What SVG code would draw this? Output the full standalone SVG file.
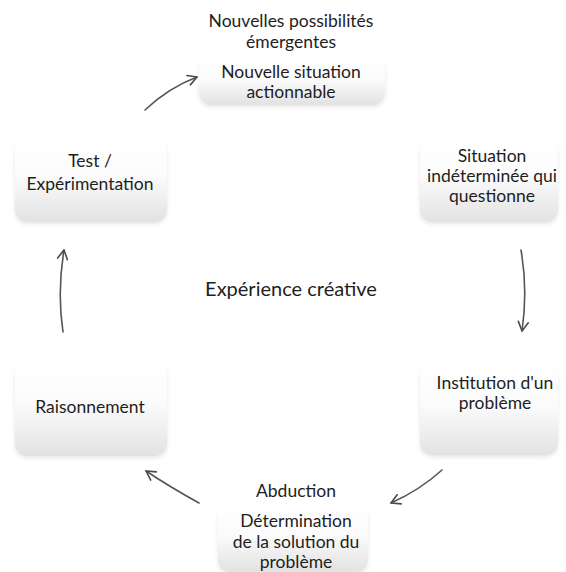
<svg xmlns="http://www.w3.org/2000/svg" width="566" height="572" viewBox="0 0 566 572">
  <defs>
    <linearGradient id="boxFill" x1="0" y1="0" x2="0" y2="1">
      <stop offset="0" stop-color="#ffffff"/>
      <stop offset="0.45" stop-color="#fbfbfb"/>
      <stop offset="1" stop-color="#e2e2e2"/>
    </linearGradient>
    <filter id="soft" x="-10%" y="-10%" width="120%" height="130%">
      <feGaussianBlur in="SourceAlpha" stdDeviation="2"/>
      <feOffset dy="1.5" result="b"/>
      <feComponentTransfer><feFuncA type="linear" slope="0.1"/></feComponentTransfer>
      <feMerge><feMergeNode/><feMergeNode in="SourceGraphic"/></feMerge>
    </filter>
    <marker id="head" viewBox="0 0 12 12" refX="10" refY="6" markerWidth="12" markerHeight="12" markerUnits="userSpaceOnUse" orient="auto">
      <path d="M1,1 L10,6 L1,11" fill="none" stroke="#4a4a4a" stroke-width="1.6" stroke-linecap="round" stroke-linejoin="round"/>
    </marker>
  </defs>
  <style>
    .box { fill: url(#boxFill); filter: url(#soft); }
    .t { font-family: Lato, "Open Sans", "Liberation Sans", sans-serif; font-size: 17.5px; fill: #1e1e1e; text-anchor: middle; }
    .title { font-family: Lato, "Open Sans", "Liberation Sans", sans-serif; font-size: 20px; fill: #1e1e1e; text-anchor: middle; }
    .arrow { fill: none; stroke: #555555; stroke-width: 1.6; stroke-linecap: round; marker-end: url(#head); }
  </style>
  <rect width="566" height="572" fill="#ffffff"/>

  <g id="node-nouvelle-situation">
    <rect class="box" x="199" y="58" width="186" height="47" rx="12"/>
    <text class="t" x="291" y="27">Nouvelles possibilités</text>
    <text class="t" x="291" y="48">émergentes</text>
    <text class="t" x="291" y="78">Nouvelle situation</text>
    <text class="t" x="291" y="98">actionnable</text>
  </g>

  <g id="node-situation-indeterminee">
    <rect class="box" x="420" y="140" width="138" height="82" rx="12"/>
    <text class="t" x="492" y="162">Situation</text>
    <text class="t" x="492" y="182">indéterminée qui</text>
    <text class="t" x="492" y="202">questionne</text>
  </g>

  <g id="node-institution">
    <rect class="box" x="420" y="366" width="138" height="89" rx="12"/>
    <text class="t" x="495" y="389">Institution d'un</text>
    <text class="t" x="495" y="409">problème</text>
  </g>

  <g id="node-abduction">
    <rect class="box" x="218" y="505" width="150" height="67" rx="12"/>
    <text class="t" x="296" y="497">Abduction</text>
    <text class="t" x="296" y="527">Détermination</text>
    <text class="t" x="296" y="548">de la solution du</text>
    <text class="t" x="296" y="568">problème</text>
  </g>

  <g id="node-raisonnement">
    <rect class="box" x="15" y="362" width="152" height="94" rx="12"/>
    <text class="t" x="90" y="413">Raisonnement</text>
  </g>

  <g id="node-test">
    <rect class="box" x="15" y="140" width="152" height="82" rx="12"/>
    <text class="t" x="90" y="167">Test /</text>
    <text class="t" x="90" y="190">Expérimentation</text>
  </g>

  <g id="center-label">
    <text class="title" x="291" y="296">Expérience créative</text>
  </g>

  <g id="connectors">
    <path class="arrow" d="M145,110 Q168,88 197,77"/>
    <path class="arrow" d="M521,250 Q528,290 522,331"/>
    <path class="arrow" d="M442,470 Q420,490 391,503"/>
    <path class="arrow" d="M199,503 Q170,487 146,471"/>
    <path class="arrow" d="M63,332 Q57,292 64,250"/>
  </g>
</svg>
